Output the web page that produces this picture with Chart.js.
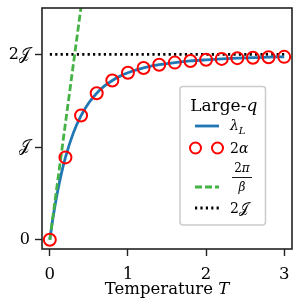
<!DOCTYPE html>
<html>
<head>
<meta charset="utf-8">
<script src="https://cdn.jsdelivr.net/npm/chart.js@4.4.1/dist/chart.umd.min.js"></script>
<style>
  html, body { margin: 0; padding: 0; background: #fff; }
  canvas { display: block; }
</style>
</head>
<body>
<canvas id="tempChart" width="300" height="300"></canvas>
<script>
// values in units of J
const circleT = [0, 0.2, 0.4, 0.6, 0.8, 1.0, 1.2, 1.4, 1.6, 1.8, 2.0, 2.2, 2.4, 2.6, 2.8, 3.0];
const circleAlpha = [0, 0.888, 1.340, 1.581, 1.718, 1.801, 1.853, 1.888, 1.911, 1.929, 1.941, 1.951, 1.959, 1.964, 1.969, 1.973];

const lambdaT = [0, 0.025, 0.05, 0.1, 0.15, 0.2, 0.3, 0.4, 0.5, 0.6, 0.7, 0.8, 0.9, 1.0, 1.2, 1.4, 1.6, 1.8, 2.0, 2.2, 2.4, 2.6, 2.8, 3.0];
const lambdaL = [0, 0.150, 0.286, 0.523, 0.721, 0.888, 1.150, 1.340, 1.478, 1.581, 1.659, 1.718, 1.765, 1.801, 1.853, 1.888, 1.911, 1.929, 1.941, 1.951, 1.959, 1.964, 1.969, 1.973];

const boundT = [0, 0.5];
const boundVal = [0, 3.1416];

const capT = [0, 3];
const capVal = [2, 2];

const xTicks = [0, 1, 2, 3];
const yTicks = [0, 1, 2];
const yTickLabels = ['0', '𝒥', '2𝒥'];

const SERIF = '"DejaVu Serif", "Liberation Serif", serif';
const AXIS_COLOR = '#222';
const GREEN = '#44b244';

const toPoints = (xs, ys) => xs.map((x, i) => ({ x: x, y: ys[i] }));

// draw "normal" + "italic" pieces one after the other
function mixedText(ctx, parts, x, y, size) {
  let cx = x;
  parts.forEach(([txt, italic]) => {
    ctx.font = (italic ? 'italic ' : '') + size + 'px ' + SERIF;
    ctx.fillText(txt, cx, y);
    cx += ctx.measureText(txt).width;
  });
  return cx;
}

function mixedWidth(ctx, parts, size) {
  let w = 0;
  parts.forEach(([txt, italic]) => {
    ctx.font = (italic ? 'italic ' : '') + size + 'px ' + SERIF;
    w += ctx.measureText(txt).width;
  });
  return w;
}

// frame, x-axis title and the legend box
const decorPlugin = {
  id: 'decor',
  afterDraw(chart) {
    const ctx = chart.ctx;
    const a = chart.chartArea;
    ctx.save();
    ctx.strokeStyle = AXIS_COLOR;
    ctx.lineWidth = 1.6;
    ctx.strokeRect(a.left, a.top, a.right - a.left, a.bottom - a.top);

    ctx.fillStyle = '#000';
    ctx.textBaseline = 'alphabetic';
    ctx.textAlign = 'left';

    // x title
    const xTitle = [['Temperature ', false], ['T', true]];
    const xw = mixedWidth(ctx, xTitle, 16.5);
    mixedText(ctx, xTitle, (a.left + a.right) / 2 - xw / 2, 293.5, 16.5);

    // legend
    const lx = 180, ly = 86.5, lw = 85.5, lh = 138.5;
    ctx.beginPath();
    ctx.roundRect(lx, ly, lw, lh, 3);
    ctx.fillStyle = 'rgba(255,255,255,0.85)';
    ctx.fill();
    ctx.strokeStyle = '#cccccc';
    ctx.lineWidth = 1.5;
    ctx.stroke();

    ctx.fillStyle = '#000';
    const lt = [['Large-', false], ['q', true]];
    const ltw = mixedWidth(ctx, lt, 17);
    mixedText(ctx, lt, lx + lw / 2 - ltw / 2 + 1, 110.5, 17);

    const hx0 = 196, hx1 = 218, textX = 230;

    // lambda_L
    ctx.strokeStyle = '#1f77b4';
    ctx.lineWidth = 2.8;
    ctx.beginPath();
    ctx.moveTo(hx0 - 1, 126); ctx.lineTo(hx1 + 1, 126);
    ctx.stroke();
    const lend = mixedText(ctx, [['λ', true]], textX, 130, 14);
    mixedText(ctx, [['L', true]], lend, 133.5, 10);

    // 2 alpha
    ctx.strokeStyle = '#ff0000';
    ctx.lineWidth = 2;
    [hx0 - 0.5, hx1 - 0.5].forEach((px) => {
      ctx.beginPath();
      ctx.arc(px, 148, 5.5, 0, Math.PI * 2);
      ctx.stroke();
    });
    mixedText(ctx, [['2', false], ['α', true]], textX, 153, 14);

    // 2 pi / beta
    ctx.strokeStyle = GREEN;
    ctx.lineWidth = 2.8;
    ctx.setLineDash([7, 3]);
    ctx.beginPath();
    ctx.moveTo(hx0 - 1, 187); ctx.lineTo(hx1 + 1, 187);
    ctx.stroke();
    ctx.setLineDash([]);
    const nw = mixedWidth(ctx, [['2', false], ['π', true]], 12);
    mixedText(ctx, [['2', false], ['π', true]], textX + 12 - nw / 2, 172, 12);
    ctx.fillRect(textX + 2, 177, 20, 0.9);
    ctx.font = 'italic 12px ' + SERIF;
    const bw = ctx.measureText('β').width;
    ctx.fillText('β', textX + 12 - bw / 2, 191);

    // 2J
    ctx.strokeStyle = '#000';
    ctx.lineWidth = 2.8;
    ctx.setLineDash([2.2, 3.2]);
    ctx.beginPath();
    ctx.moveTo(hx0 - 1, 208); ctx.lineTo(hx1 + 1, 208);
    ctx.stroke();
    ctx.setLineDash([]);
    mixedText(ctx, [['2𝒥', false]], textX, 213, 14);
    ctx.restore();
  }
};

new Chart(document.getElementById('tempChart'), {
  type: 'scatter',
  data: {
    datasets: [
      {
        label: 'λL',
        data: toPoints(lambdaT, lambdaL),
        showLine: true,
        borderColor: '#1f77b4',
        borderWidth: 2.8,
        pointRadius: 0,
        cubicInterpolationMode: 'monotone',
        order: 3,
      },
      {
        label: '2α',
        data: toPoints(circleT, circleAlpha),
        showLine: false,
        pointRadius: 6,
        pointBorderWidth: 2,
        pointBorderColor: '#ff0000',
        pointBackgroundColor: 'rgba(0,0,0,0)',
        order: 1,
        clip: false,
      },
      {
        label: '2π/β',
        data: toPoints(boundT, boundVal),
        showLine: true,
        borderColor: GREEN,
        borderWidth: 2.8,
        borderDash: [7, 3],
        pointRadius: 0,
        order: 2,
      },
      {
        label: '2J',
        data: toPoints(capT, capVal),
        showLine: true,
        borderColor: '#000',
        borderWidth: 2.8,
        borderDash: [2.2, 3.2],
        pointRadius: 0,
        order: 4,
      },
    ],
  },
  options: {
    responsive: false,
    animation: false,
    events: [],
    layout: { padding: { top: 8, right: 6, left: 0, bottom: 0 } },
    plugins: {
      legend: { display: false },
      tooltip: { enabled: false },
    },
    scales: {
      x: {
        type: 'linear',
        min: -0.1,
        max: 3.1,
        afterFit: (scale) => {
          scale.height = 51;
          scale.paddingLeft = 0;
          scale.paddingRight = 0;
        },
        afterBuildTicks: (scale) => { scale.ticks = xTicks.map((v) => ({ value: v })); },
        grid: { drawOnChartArea: false, drawTicks: true, tickLength: 7, tickColor: AXIS_COLOR, tickWidth: 1.4 },
        border: { display: false },
        ticks: {
          color: '#000',
          padding: 9,
          maxRotation: 0,
          font: { family: SERIF, size: 16.5 },
          callback: (v) => String(v),
        },
      },
      y: {
        type: 'linear',
        min: -0.1,
        max: 2.5,
        afterFit: (scale) => {
          scale.width = 42;
          scale.paddingTop = 0;
          scale.paddingBottom = 0;
        },
        afterBuildTicks: (scale) => { scale.ticks = yTicks.map((v) => ({ value: v })); },
        grid: { drawOnChartArea: false, drawTicks: true, tickLength: 7, tickColor: AXIS_COLOR, tickWidth: 1.4 },
        border: { display: false },
        ticks: {
          color: '#000',
          padding: 5,
          font: { family: SERIF, size: 16 },
          callback: (v) => yTickLabels[yTicks.indexOf(v)],
        },
      },
    },
  },
  plugins: [decorPlugin],
});
</script>
</body>
</html>
